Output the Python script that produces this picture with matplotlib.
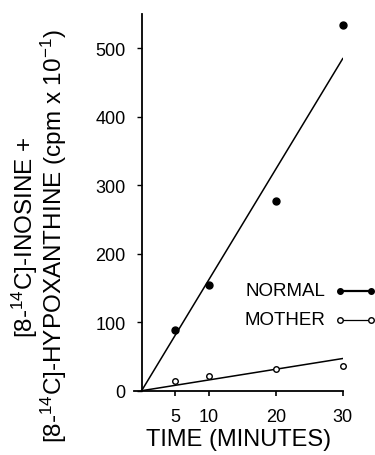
import numpy as np
import matplotlib.pyplot as plt

plt.rcParams['font.family'] = ['Liberation Sans', 'DejaVu Sans']
plt.rcParams['mathtext.fontset'] = 'custom'
plt.rcParams['mathtext.rm'] = 'Liberation Sans'
plt.rcParams['mathtext.default'] = 'regular'

# data
time = [5, 10, 20, 30]
normal = [88, 155, 277, 534]
mother = [14, 22, 31, 36]
fit_x = [0, 30]
normal_fit = [0, 485]
mother_fit = [0, 47]
xticks = [5, 10, 20, 30]
yticks = [0, 100, 200, 300, 400, 500]

fig = plt.figure(figsize=(3.75, 4.56), dpi=100)
ax = fig.add_axes([0.358, 0.141, 0.556, 0.826])

ax.plot(fit_x, normal_fit, color='black', lw=1.1)
ax.plot(fit_x, mother_fit, color='black', lw=1.1)
ax.plot(time, normal, 'o', color='black', ms=5, clip_on=False)
ax.plot(time, mother, 'o', mfc='white', mec='black', mew=1.0, ms=4, clip_on=False)

ax.set_xlim(-1.1, 30)
ax.set_ylim(0, 550)
ax.spines['left'].set_position(('data', 0))
ax.spines['top'].set_visible(False)
ax.spines['right'].set_visible(False)
for s in ['left', 'bottom']:
    ax.spines[s].set_linewidth(1.3)
ax.set_xticks(xticks)
ax.set_yticks(yticks)
ax.tick_params(axis='x', direction='out', length=3.5, width=1.2, labelsize=13, pad=9)
ax.tick_params(axis='y', direction='out', length=3.5, width=1.0, labelsize=13, pad=8)

ax.set_xlabel('TIME (MINUTES)', fontsize=17, labelpad=2)
fig.text(0.104, 0.481, '[8-$^{14}$C]-INOSINE +\n[8-$^{14}$C]-HYPOXANTHINE (cpm x 10$^{-1}$)',
         rotation=90, ha='center', va='center', fontsize=17.5, linespacing=0.95,
         multialignment='center')

# hand-drawn key
ax.text(0.915, 0.265, 'NORMAL', transform=ax.transAxes, ha='right', va='center', fontsize=13.5)
ax.text(0.915, 0.188, 'MOTHER', transform=ax.transAxes, ha='right', va='center', fontsize=13.5)
ax.plot([0.987, 1.136], [0.265, 0.265], transform=ax.transAxes, color='black', lw=1.6,
        marker='o', ms=4, clip_on=False)
ax.plot([0.987, 1.136], [0.188, 0.188], transform=ax.transAxes, color='black', lw=0.9,
        marker='o', mfc='white', ms=4, clip_on=False)

fig.savefig('out.png', dpi=100)
